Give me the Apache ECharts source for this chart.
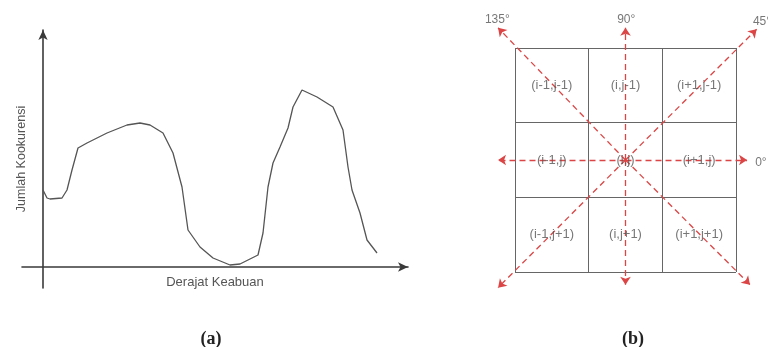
<!DOCTYPE html>
<html>
<head>
<meta charset="utf-8">
<script src="https://cdn.jsdelivr.net/npm/echarts@6/dist/echarts.min.js"></script>
<style>
	html, body { margin: 0; padding: 0; background: #fff; }
	#chart { width: 768px; height: 347px; }
</style>
</head>
<body>
<div id="chart"></div>
<script>
	// (a) kurva histogram: derajat keabuan vs jumlah kookurensi
	const grayLevel = [0, 4, 7, 19, 24, 29, 35, 44, 64, 84, 97, 107, 120, 130, 139, 145, 157, 170, 187, 197,
		215, 220, 225, 230, 237, 245, 250, 259, 274, 290, 300, 305, 309, 317, 324, 334]
	const countValues = [77, 69, 68, 69, 77, 97, 119, 124, 134, 142, 144, 142, 134, 114, 80, 37, 20, 9, 2, 3,
		12, 34, 80, 104, 120, 139, 160, 177, 170, 160, 137, 100, 77, 54, 27, 14]

	// (b) sel ketetanggaan 3x3
	const cellLabels = [
		['(i-1,j-1)', '(i,j-1)', '(i+1,j-1)'],
		['(i-1,j)', '(i,j)', '(i+1,j)'],
		['(i-1,j+1)', '(i,j+1)', '(i+1,j+1)']
	]
	const arrowCenter = [1.5, 1.5]
	const arrowTips = [
		[3.15, 1.5], [3.28, 3.25], [1.5, 3.27], [-0.23, 3.27],
		[-0.23, 1.5], [-0.23, -0.21], [1.5, -0.17], [3.19, -0.17]
	]
	const angleLabels = [
		{ text: '0°', pos: [3.26, 1.47], align: 'left' },
		{ text: '45°', pos: [3.23, 3.35], align: 'left' },
		{ text: '90°', pos: [1.51, 3.375], align: 'center' },
		{ text: '135°', pos: [-0.24, 3.375], align: 'center' }
	]

	const font = "'Liberation Sans', Arial, sans-serif"
	const red = '#dc4545'

	const cellData = []
	cellLabels.forEach((row, r) => {
		row.forEach((txt, c) => {
			cellData.push({ value: [c + 0.5, 2.5 - r], name: txt })
		})
	})

	const chart = echarts.init(document.getElementById('chart'))
	const option = {
		backgroundColor: '#fff',
		animation: false,
		title: [{
			text: '(a)', left: 206, top: 325, textAlign: 'center',
			textStyle: { fontFamily: "'Liberation Serif', serif", fontWeight: 'bold', fontSize: 18, color: '#222' }
		}, {
			text: '(b)', left: 628, top: 325, textAlign: 'center',
			textStyle: { fontFamily: "'Liberation Serif', serif", fontWeight: 'bold', fontSize: 18, color: '#222' }
		}],
		grid: [
			{ left: 22, right: 360, top: 30, bottom: 59, containLabel: false, outerBoundsMode: 'none' },
			{ left: 515, right: 32, top: 48, bottom: 75, containLabel: false, outerBoundsMode: 'none' }
		],
		xAxis: [{
			gridIndex: 0, type: 'value', min: -21, max: 365,
			axisLine: { onZero: true, symbol: ['none', 'arrow'], symbolSize: [7, 10], lineStyle: { color: '#3a3a3a', width: 1.6 } },
			axisTick: { show: false }, axisLabel: { show: false }, splitLine: { show: false },
			name: 'Derajat Keabuan', nameLocation: 'middle', nameGap: -12,
			nameTextStyle: { fontFamily: font, fontSize: 13, color: '#555' }
		}, {
			gridIndex: 1, type: 'value', min: 0, max: 3, interval: 1,
			axisLine: { show: false }, axisTick: { show: false }, axisLabel: { show: false },
			splitLine: { show: true, lineStyle: { color: '#666', width: 1 } }
		}],
		yAxis: [{
			gridIndex: 0, type: 'value', min: -21, max: 237,
			axisLine: { onZero: true, symbol: ['none', 'arrow'], symbolSize: [7, 10], lineStyle: { color: '#3a3a3a', width: 1.6 } },
			axisTick: { show: false }, axisLabel: { show: false }, splitLine: { show: false },
			name: 'Jumlah Kookurensi', nameLocation: 'middle', nameGap: -6, nameRotate: 90,
			nameTextStyle: { fontFamily: font, fontSize: 12.5, color: '#555' }
		}, {
			gridIndex: 1, type: 'value', min: 0, max: 3, interval: 1,
			axisLine: { show: false }, axisTick: { show: false }, axisLabel: { show: false },
			splitLine: { show: true, lineStyle: { color: '#666', width: 1 } }
		}],
		series: [{
			type: 'line',
			xAxisIndex: 0, yAxisIndex: 0,
			data: grayLevel.map((x, i) => [x, countValues[i]]),
			symbol: 'none',
			lineStyle: { color: '#555', width: 1.3 }
		}, {
			type: 'lines',
			coordinateSystem: 'cartesian2d',
			xAxisIndex: 1, yAxisIndex: 1,
			clip: false,
			symbol: ['none', 'arrow'],
			symbolSize: 8,
			lineStyle: { color: red, width: 1.3, type: [6, 4], opacity: 1 },
			data: arrowTips.map(t => ({ coords: [arrowCenter, t] }))
		}, {
			type: 'scatter',
			xAxisIndex: 1, yAxisIndex: 1,
			clip: false,
			symbolSize: 0,
			data: cellData,
			label: {
				show: true, position: 'inside', formatter: p => p.name,
				fontFamily: font, fontSize: 13, color: '#555'
			}
		}, {
			type: 'scatter',
			xAxisIndex: 1, yAxisIndex: 1,
			clip: false,
			symbolSize: 0,
			data: angleLabels.map(a => ({ value: a.pos, name: a.text, label: { align: a.align } })),
			label: {
				show: true, position: 'inside', formatter: p => p.name,
				fontFamily: font, fontSize: 12, color: '#555'
			}
		}]
	}
	chart.setOption(option)
</script>
</body>
</html>
